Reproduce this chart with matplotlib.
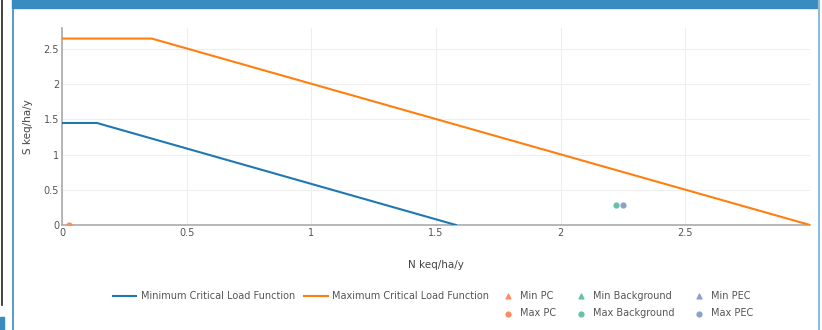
import matplotlib.pyplot as plt
from matplotlib.lines import Line2D
from matplotlib.patches import Rectangle

# critical load function vertices (N, S)
min_clf_n = [0.0, 0.14, 1.58]
min_clf_s = [1.45, 1.45, 0.0]
max_clf_n = [0.0, 0.36, 3.0]
max_clf_s = [2.65, 2.65, 0.0]

# deposition points
min_pc_n, min_pc_s = [], []
max_pc_n, max_pc_s = [0.03], [0.0]
min_bg_n, min_bg_s = [], []
max_bg_n, max_bg_s = [2.22], [0.29]
min_pec_n, min_pec_s = [], []
max_pec_n, max_pec_s = [2.25], [0.29]

xticks = [0, 0.5, 1, 1.5, 2, 2.5]
xtick_labels = ['0', '0.5', '1', '1.5', '2', '2.5']
yticks = [0, 0.5, 1, 1.5, 2, 2.5]
ytick_labels = ['0', '0.5', '1', '1.5', '2', '2.5']

blue = '#1f77b4'
orange = '#ff7f0e'
c_pc = '#fc8d62'
c_bg = '#66c2a5'
c_pec = '#8da0cb'
txt = '#555555'

W, H = 822, 330
fig = plt.figure(figsize=(W / 100, H / 100), dpi=100)

# page frame bits
fig.patches.append(Rectangle((12 / W, 1 - 8 / H), 805 / W, 8 / H, transform=fig.transFigure,
                             color='#3a8bbf', zorder=0))
fig.add_artist(Line2D([12.5 / W, 12.5 / W], [0, 1], color='#3a8bbf', lw=1.2))
fig.add_artist(Line2D([818.5 / W, 818.5 / W], [0, 1], color='#8fbcdc', lw=1.5))
fig.add_artist(Line2D([1.5 / W, 1.5 / W], [1, 1 - 305 / H], color='#222222', lw=1.2))
fig.patches.append(Rectangle((0, 0), 4 / W, 13 / H, transform=fig.transFigure,
                             color='#3a8bbf', zorder=0))

ax = fig.add_axes([62 / W, 1 - 225 / H, 748 / W, 197 / H])
ax.plot(min_clf_n, min_clf_s, color=blue, lw=1.5, label='Minimum Critical Load Function', zorder=3)
ax.plot(max_clf_n, max_clf_s, color=orange, lw=1.5, label='Maximum Critical Load Function', zorder=3)
ax.scatter(min_pc_n, min_pc_s, marker='^', s=12, color=c_pc, label='Min PC', zorder=4)
ax.scatter(max_pc_n, max_pc_s, marker='o', s=12, color=c_pc, label='Max PC', zorder=4)
ax.scatter(min_bg_n, min_bg_s, marker='^', s=12, color=c_bg, label='Min Background', zorder=4)
ax.scatter(max_bg_n, max_bg_s, marker='o', s=12, color=c_bg, label='Max Background', zorder=4)
ax.scatter(min_pec_n, min_pec_s, marker='^', s=12, color=c_pec, label='Min PEC', zorder=4)
ax.scatter(max_pec_n, max_pec_s, marker='o', s=12, color=c_pec, label='Max PEC', zorder=4)

ax.set_xlim(0, 3.0)
ax.set_ylim(0, 2.8)
ax.set_xticks(xticks, xtick_labels)
ax.set_yticks(yticks, ytick_labels)
ax.tick_params(length=0, labelsize=7, colors=txt, pad=2)
ax.grid(color='#eeeeee', lw=0.8)
ax.set_axisbelow(True)
for s in ['top', 'right']:
    ax.spines[s].set_visible(False)
for s in ['left', 'bottom']:
    ax.spines[s].set_color('#aaaaaa')
    ax.spines[s].set_linewidth(1.2)
ax.set_xlabel('N keq/ha/y', fontsize=7.5, color='#444444', labelpad=16)
ax.set_ylabel('S keq/ha/y', fontsize=7.5, color='#444444', labelpad=8)

h, l = ax.get_legend_handles_labels()
leg1 = fig.legend(h[:2], l[:2], loc='upper left', bbox_to_anchor=(113 / W, 1 - 291 / H),
                  ncol=2, frameon=False, fontsize=7, handlelength=2.4, handletextpad=0.5,
                  columnspacing=0.9, borderpad=0, borderaxespad=0)
leg2 = fig.legend(h[2:], l[2:], loc='upper left', bbox_to_anchor=(502 / W, 1 - 291 / H),
                  ncol=3, frameon=False, fontsize=7, handlelength=1.2, handletextpad=0.6,
                  columnspacing=2.0, borderpad=0, borderaxespad=0, labelspacing=0.75)
for lg in (leg1, leg2):
    for t in lg.get_texts():
        t.set_color(txt)

fig.savefig('out.png', dpi=100)
